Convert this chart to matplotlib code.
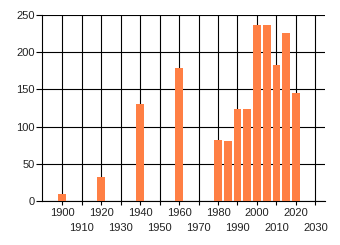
import matplotlib
matplotlib.use("Agg")
import matplotlib.pyplot as plt

years = [1900, 1920, 1940, 1960, 1980, 1985, 1990, 1995, 2000, 2005, 2010, 2015, 2020]
values = [10, 32, 131, 179, 82, 80, 124, 124, 237, 237, 183, 226, 145]
major_ticks = [1900, 1920, 1940, 1960, 1980, 2000, 2020]
minor_ticks = [1910, 1930, 1950, 1970, 1990, 2010, 2030]
y_ticks = [0, 50, 100, 150, 200, 250]

plt.rcParams["font.family"] = ["Liberation Sans", "DejaVu Sans"]
plt.rcParams["font.size"] = 8

fig = plt.figure(figsize=(3.4, 2.45), dpi=100)
ax = fig.add_axes([42 / 340, 1 - 201 / 245, (325 - 42) / 340, (201 - 15) / 245])

ax.bar(years, values, width=4, color="#FF7F44", zorder=3)

ax.set_xlim(1889.7, 2034.9)
ax.set_ylim(0, 250)
ax.set_yticks(y_ticks)
ax.set_xticks(major_ticks)
ax.set_xticks(minor_ticks, minor=True)
ax.set_xticklabels([str(t) for t in major_ticks])
ax.set_xticklabels([str(t) for t in minor_ticks], minor=True)

ax.tick_params(axis="x", which="major", length=3, width=0.8, pad=2, colors="black")
ax.tick_params(axis="x", which="minor", length=3, width=0.8, pad=13, colors="black")
ax.tick_params(axis="y", length=4, width=0.8, pad=1, colors="black")
for lab in ax.get_xticklabels(which="both") + ax.get_yticklabels():
    lab.set_color("#222222")

ax.grid(axis="x", which="both", color="black", linewidth=0.8, zorder=1)
ax.grid(axis="y", which="major", color="black", linewidth=0.8, zorder=1)

ax.spines["top"].set_visible(False)
ax.spines["right"].set_visible(False)
ax.spines["left"].set_linewidth(0.8)
ax.spines["bottom"].set_linewidth(0.8)

fig.savefig("out.png", dpi=100)
